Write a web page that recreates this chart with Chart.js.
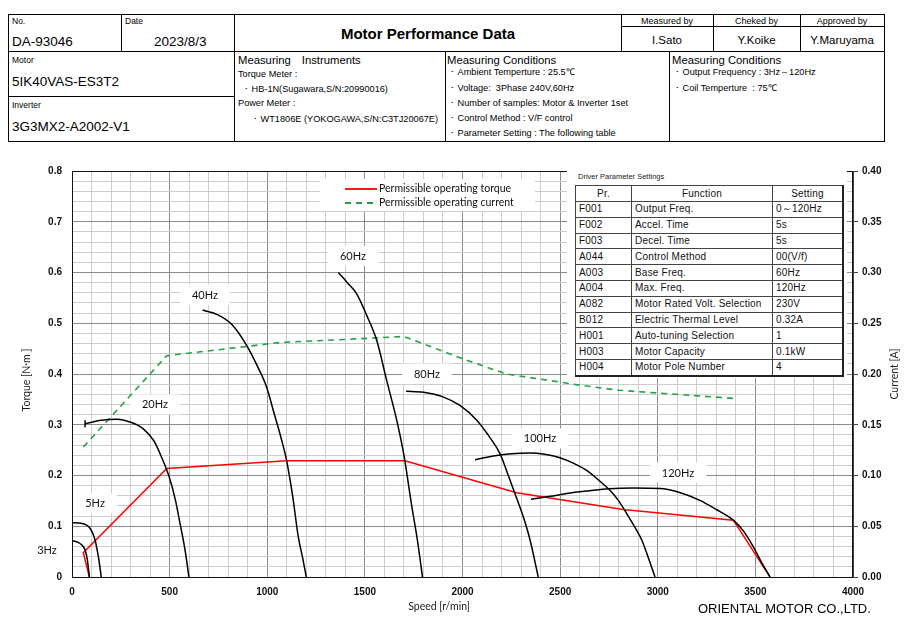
<!DOCTYPE html>
<html>
<head>
<meta charset="utf-8">
<script src="https://cdn.jsdelivr.net/npm/chart.js@4.4.1/dist/chart.umd.min.js"></script>
<style>
  body { margin: 0; width: 910px; height: 632px; background: #fff; font-family: "Liberation Sans", Arial, sans-serif; position: relative; overflow: hidden; }
  .t { position: absolute; line-height: 1; white-space: pre; color: #000; }
  .s { font-size: 9.2px; }
  .ln { position: absolute; background: #000; }
  .c { text-align: center; }
  #chartWrap { position: absolute; left: 0; top: 155px; width: 910px; height: 470px; }
  #paramBox { position: absolute; left: 567px; top: 170px; width: 280px; height: 208px; background: #fff; }
  #paramCap { position: absolute; left: 578px; top: 173px; font-size: 7.5px; color: #222; }
  #param { position: absolute; left: 575px; top: 185px; border-collapse: collapse; font-size: 10px; letter-spacing: 0.2px;
           border-right: 2px solid #222; border-bottom: 2px solid #222; }
  #param td { border: 1px solid #444; padding: 0 3px; height: 14.8px; line-height: 14px; color: #111; }
  #param tr:first-child td { text-align: center; height: 15px; }
  #logo { position: absolute; left: 698px; top: 602px; font-size: 13px; }
</style>
</head>
<body>
<!-- header table -->
<div class="ln" style="left:8px;top:14px;width:877px;height:1px"></div>
<div class="ln" style="left:8px;top:141px;width:877px;height:1px"></div>
<div class="ln" style="left:8px;top:14px;width:1px;height:128px"></div>
<div class="ln" style="left:884px;top:14px;width:1px;height:128px"></div>
<div class="ln" style="left:8px;top:51px;width:877px;height:1px"></div>
<div class="ln" style="left:8px;top:96px;width:227px;height:1px"></div>
<div class="ln" style="left:621px;top:26px;width:263px;height:1px"></div>
<div class="ln" style="left:121px;top:14px;width:1px;height:38px"></div>
<div class="ln" style="left:234px;top:14px;width:1px;height:128px"></div>
<div class="ln" style="left:621px;top:14px;width:1px;height:38px"></div>
<div class="ln" style="left:713px;top:14px;width:1px;height:38px"></div>
<div class="ln" style="left:800px;top:14px;width:1px;height:38px"></div>
<div class="ln" style="left:445px;top:51px;width:1px;height:91px"></div>
<div class="ln" style="left:669px;top:51px;width:1px;height:91px"></div>

<div class="t" style="left:12px;top:16.5px;font-size:8.5px">No.</div>
<div class="t" style="left:12px;top:34.5px;font-size:13.5px">DA-93046</div>
<div class="t" style="left:125px;top:16.5px;font-size:8.5px">Date</div>
<div class="t" style="left:154px;top:34.5px;font-size:13.5px">2023/8/3</div>
<div class="t c" style="left:235px;width:386px;top:25.5px;font-size:15px;font-weight:bold">Motor Performance Data</div>
<div class="t c" style="left:621px;width:92px;top:16.5px;font-size:9px">Measured by</div>
<div class="t c" style="left:713px;width:87px;top:16.5px;font-size:9px">Cheked by</div>
<div class="t c" style="left:800px;width:84px;top:16.5px;font-size:9px">Approved by</div>
<div class="t c" style="left:621px;width:92px;top:34.5px;font-size:11.5px">I.Sato</div>
<div class="t c" style="left:713px;width:87px;top:34.5px;font-size:11.5px">Y.Koike</div>
<div class="t c" style="left:800px;width:84px;top:34.5px;font-size:11.5px">Y.Maruyama</div>

<div class="t" style="left:12px;top:56px;font-size:8.5px">Motor</div>
<div class="t" style="left:12px;top:74.5px;font-size:13.5px">5IK40VAS-ES3T2</div>
<div class="t" style="left:12px;top:101px;font-size:8.5px">Inverter</div>
<div class="t" style="left:12px;top:119.5px;font-size:13.5px">3G3MX2-A2002-V1</div>

<div class="t" style="left:238px;top:54.7px;font-size:11.3px">Measuring　Instruments</div>
<div class="t s" style="left:238px;top:70px">Torque Meter :</div>
<div class="t s" style="left:244px;top:85px">･ HB-1N(Sugawara,S/N:20990016)</div>
<div class="t s" style="left:238px;top:99.3px">Power Meter :</div>
<div class="t s" style="left:253px;top:115px">･ WT1806E (YOKOGAWA,S/N:C3TJ20067E)</div>

<div class="t" style="left:447px;top:54.7px;font-size:11.3px">Measuring Conditions</div>
<div class="t s" style="left:450px;top:68.3px">･ Ambient Temperture : 25.5℃</div>
<div class="t s" style="left:450px;top:84px">･ Voltage:  3Phase 240V,60Hz</div>
<div class="t s" style="left:450px;top:99px">･ Number of samples: Motor &amp; Inverter 1set</div>
<div class="t s" style="left:450px;top:114px">･ Control Method : V/F control</div>
<div class="t s" style="left:450px;top:129px">･ Parameter Setting : The following table</div>

<div class="t" style="left:672px;top:54.7px;font-size:11.3px">Measuring Conditions</div>
<div class="t s" style="left:675px;top:68.3px">･ Output Frequency : 3Hz～120Hz</div>
<div class="t s" style="left:675px;top:84px">･ Coil Temperture  : 75℃</div>

<div id="chartWrap"><canvas id="motorChart"></canvas></div>

<div id="paramBox"></div>
<div id="paramCap" class="t">Driver Parameter Settings</div>
<table id="param">
  <tr><td style="width:49px">Pr.</td><td style="width:134px">Function</td><td style="width:63px">Setting</td></tr>
  <tr><td>F001</td><td>Output Freq.</td><td>0～120Hz</td></tr>
  <tr><td>F002</td><td>Accel. Time</td><td>5s</td></tr>
  <tr><td>F003</td><td>Decel. Time</td><td>5s</td></tr>
  <tr><td>A044</td><td>Control Method</td><td>00(V/f)</td></tr>
  <tr><td>A003</td><td>Base Freq.</td><td>60Hz</td></tr>
  <tr><td>A004</td><td>Max. Freq.</td><td>120Hz</td></tr>
  <tr><td>A082</td><td>Motor Rated Volt. Selection</td><td>230V</td></tr>
  <tr><td>B012</td><td>Electric Thermal Level</td><td>0.32A</td></tr>
  <tr><td>H001</td><td>Auto-tuning Selection</td><td>1</td></tr>
  <tr><td>H003</td><td>Motor Capacity</td><td>0.1kW</td></tr>
  <tr><td>H004</td><td>Motor Pole Number</td><td>4</td></tr>
</table>

<div id="logo" class="t">ORIENTAL MOTOR CO.,LTD.</div>

<script>
// speed [r/min] / torque [N·m] for each output frequency
const hz3Speed = [0, 20, 41, 55, 67, 79, 89];
const hz3Torque = [0.071, 0.070, 0.066, 0.061, 0.053, 0.033, 0];
const hz5Speed = [0, 47, 75, 92, 105, 118, 135, 150];
const hz5Torque = [0.107, 0.106, 0.102, 0.096, 0.087, 0.073, 0.040, 0];
const hz20Speed = [67, 150, 230, 300, 365, 420, 451, 498, 530, 553, 579, 599];
const hz20Torque = [0.302, 0.309, 0.311, 0.305, 0.292, 0.268, 0.243, 0.197, 0.151, 0.106, 0.053, 0];
const hz40Speed = [669, 750, 820, 895, 950, 997, 1031, 1070, 1099, 1130, 1159, 1180, 1200];
const hz40Torque = [0.526, 0.516, 0.497, 0.456, 0.415, 0.374, 0.328, 0.275, 0.230, 0.160, 0.079, 0.040, 0];
const hz60Speed = [1364, 1410, 1458, 1510, 1561, 1610, 1663, 1700, 1740, 1770, 1795];
const hz60Torque = [0.600, 0.580, 0.558, 0.515, 0.466, 0.390, 0.309, 0.240, 0.140, 0.070, 0];
const hz80Speed = [1711, 1800, 1900, 1987, 2073, 2140, 2192, 2230, 2269, 2310, 2346, 2388];
const hz80Torque = [0.366, 0.364, 0.355, 0.338, 0.309, 0.275, 0.243, 0.205, 0.164, 0.120, 0.073, 0];
const hz100Speed = [2064, 2150, 2250, 2346, 2420, 2499, 2570, 2636, 2700, 2755, 2800, 2841, 2880, 2918, 2950, 2986];
const hz100Torque = [0.231, 0.238, 0.243, 0.2445, 0.242, 0.235, 0.224, 0.210, 0.190, 0.171, 0.150, 0.125, 0.100, 0.073, 0.040, 0];
const hz120Speed = [2351, 2450, 2533, 2650, 2750, 2875, 3012, 3100, 3216, 3300, 3387, 3440, 3489, 3530, 3575];
const hz120Torque = [0.153, 0.159, 0.1645, 0.170, 0.174, 0.1755, 0.1745, 0.168, 0.151, 0.133, 0.112, 0.090, 0.060, 0.030, 0];

// permissible operating torque / current
const permSpeed = [89, 58, 485, 1100, 1705, 2277, 2823, 3387, 3575];
const permTorque = [0, 0.048, 0.214, 0.229, 0.229, 0.166, 0.133, 0.112, 0];
const currSpeed = [58, 485, 1065, 1400, 1697, 1782, 2000, 2226, 2602, 2800, 3387];
const currAmps = [0.128, 0.218, 0.231, 0.234, 0.237, 0.231, 0.215, 0.200, 0.189, 0.184, 0.176];

// curve labels
const freqLabels = ['3Hz', '5Hz', '20Hz', '40Hz', '60Hz', '80Hz', '100Hz', '120Hz'];
const freqLabelSpeed = [-128, 118, 425, 681, 1439, 1818, 2397, 3104];
const freqLabelTorque = [0.053, 0.145, 0.340, 0.556, 0.633, 0.401, 0.273, 0.206];

const legendLabels = ['Permissible operating torque', 'Permissible operating current'];

const toPoints = (xs, ys) => xs.map((v, i) => ({x: v, y: ys[i]}));

function curve(xs, ys) {
    return {
        data: toPoints(xs, ys),
        showLine: true,
        borderColor: '#000',
        borderWidth: 1.5,
        pointRadius: 0,
        cubicInterpolationMode: 'monotone',
        yAxisID: 'y'
    };
}

const hz20 = curve(hz20Speed, hz20Torque);
hz20.pointRadius = hz20Speed.map((v, i) => i === 0 ? 3.5 : 0);
hz20.pointStyle = 'line';
hz20.rotation = 90;
hz20.pointBorderColor = '#000';

let motorData = {
    datasets: [
        curve(hz3Speed, hz3Torque),
        curve(hz5Speed, hz5Torque),
        hz20,
        curve(hz40Speed, hz40Torque),
        curve(hz60Speed, hz60Torque),
        curve(hz80Speed, hz80Torque),
        curve(hz100Speed, hz100Torque),
        curve(hz120Speed, hz120Torque),
        {
            data: toPoints(permSpeed, permTorque),
            showLine: true,
            borderColor: '#ff0000',
            borderWidth: 1.5,
            pointRadius: 0,
            tension: 0,
            yAxisID: 'y'
        },
        {
            data: toPoints(currSpeed, currAmps),
            showLine: true,
            borderColor: '#22a247',
            borderWidth: 1.6,
            borderDash: [6, 5],
            pointRadius: 0,
            tension: 0,
            yAxisID: 'y2'
        }
    ]
};

function vText(ctx, text, x, y) {
    ctx.save();
    ctx.translate(x, y);
    ctx.rotate(-Math.PI / 2);
    ctx.fillText(text, 0, 0);
    ctx.restore();
}

const overlay = {
    id: 'overlay',
    beforeDatasetsDraw(chart) {
        const {ctx, chartArea: a, scales: {x, y}} = chart;
        ctx.save();
        // frequency labels on white boxes
        ctx.font = '11px Lato';
        ctx.textAlign = 'center';
        ctx.textBaseline = 'middle';
        freqLabels.forEach((t, i) => {
            const px = x.getPixelForValue(freqLabelSpeed[i]);
            const py = y.getPixelForValue(freqLabelTorque[i]);
            const w = ctx.measureText(t).width + 24;
            ctx.fillStyle = '#fff';
            ctx.fillRect(px - w / 2, py - 10, w, 20);
            ctx.fillStyle = '#111';
            ctx.fillText(t, px, py + 0.5);
        });
        // legend
        const lx = a.left + 248, ly = a.top + 8;
        ctx.fillStyle = '#fff';
        ctx.fillRect(lx, ly, 215, 32);
        ctx.lineWidth = 1.8;
        ctx.strokeStyle = '#ff0000';
        ctx.beginPath(); ctx.moveTo(lx + 25, ly + 10); ctx.lineTo(lx + 57, ly + 10); ctx.stroke();
        ctx.strokeStyle = '#22a247';
        ctx.setLineDash([6, 5]);
        ctx.beginPath(); ctx.moveTo(lx + 25, ly + 24); ctx.lineTo(lx + 58, ly + 24); ctx.stroke();
        ctx.setLineDash([]);
        ctx.font = '10.5px Lato';
        ctx.textAlign = 'left';
        ctx.fillStyle = '#111';
        ctx.fillText(legendLabels[0], lx + 59, ly + 10);
        ctx.fillText(legendLabels[1], lx + 59, ly + 24);
        ctx.restore();
    },
    afterDraw(chart) {
        const {ctx, chartArea: a} = chart;
        ctx.save();
        ctx.strokeStyle = '#111';
        ctx.lineWidth = 1;
        ctx.strokeRect(a.left + 0.5, a.top + 0.5, a.width - 1, a.height);
        // axis titles
        ctx.font = '10.5px Lato';
        ctx.fillStyle = '#222';
        ctx.textAlign = 'center';
        ctx.textBaseline = 'middle';
        ctx.fillText('Speed [r/min]', a.left + a.width * 0.47, a.bottom + 30);
        vText(ctx, 'Torque [N·m ]', 27, a.top + a.height / 2 + 6);
        vText(ctx, 'Current [A]', 895, a.top + a.height / 2);
        ctx.restore();
    }
};

let motorOptions = {
    responsive: true,
    maintainAspectRatio: false,
    animation: false,
    layout: { padding: { top: 15 } },
    plugins: {
        legend: { display: false },
        tooltip: { enabled: false }
    },
    scales: {
        x: {
            type: 'linear',
            min: 0,
            max: 4000,
            afterFit: s => { s.height = 48; },
            ticks: {
                stepSize: 100,
                maxTicksLimit: 100,
                autoSkip: false,
                maxRotation: 0,
                padding: 9,
                color: '#111',
                font: { size: 10, weight: 'bold', family: 'Liberation Sans' },
                callback: v => v % 500 === 0 ? String(v) : ''
            },
            grid: {
                drawTicks: false,
                color: c => c.tick && c.tick.value % 500 === 0 ? '#8c8c8c' : '#cdcdcd'
            },
            border: { color: '#000' }
        },
        y: {
            position: 'left',
            min: 0,
            max: 0.8,
            afterFit: s => { s.width = 72; },
            ticks: {
                stepSize: 0.02,
                maxTicksLimit: 100,
                autoSkip: false,
                padding: 10,
                color: '#111',
                font: { size: 10, weight: 'bold', family: 'Liberation Sans' },
                callback: v => {
                    const n = Math.round(v * 50);
                    return n % 5 === 0 ? String(n / 50) : '';
                }
            },
            grid: {
                drawTicks: false,
                color: c => c.tick && Math.round(c.tick.value * 50) % 5 === 0 ? '#8c8c8c' : '#cdcdcd'
            },
            border: { color: '#000' }
        },
        y2: {
            position: 'right',
            min: 0,
            max: 0.4,
            afterFit: s => { s.width = 57; },
            ticks: {
                stepSize: 0.05,
                padding: 4,
                color: '#111',
                font: { size: 10, weight: 'bold', family: 'Liberation Sans' },
                callback: v => v.toFixed(2)
            },
            grid: {
                drawOnChartArea: false,
                tickLength: 5,
                color: '#444'
            },
            border: { color: '#444' }
        }
    }
};

let motorChart = new Chart(document.getElementById('motorChart'), {
    type: 'scatter',
    data: motorData,
    options: motorOptions,
    plugins: [overlay]
});
</script>
</body>
</html>
